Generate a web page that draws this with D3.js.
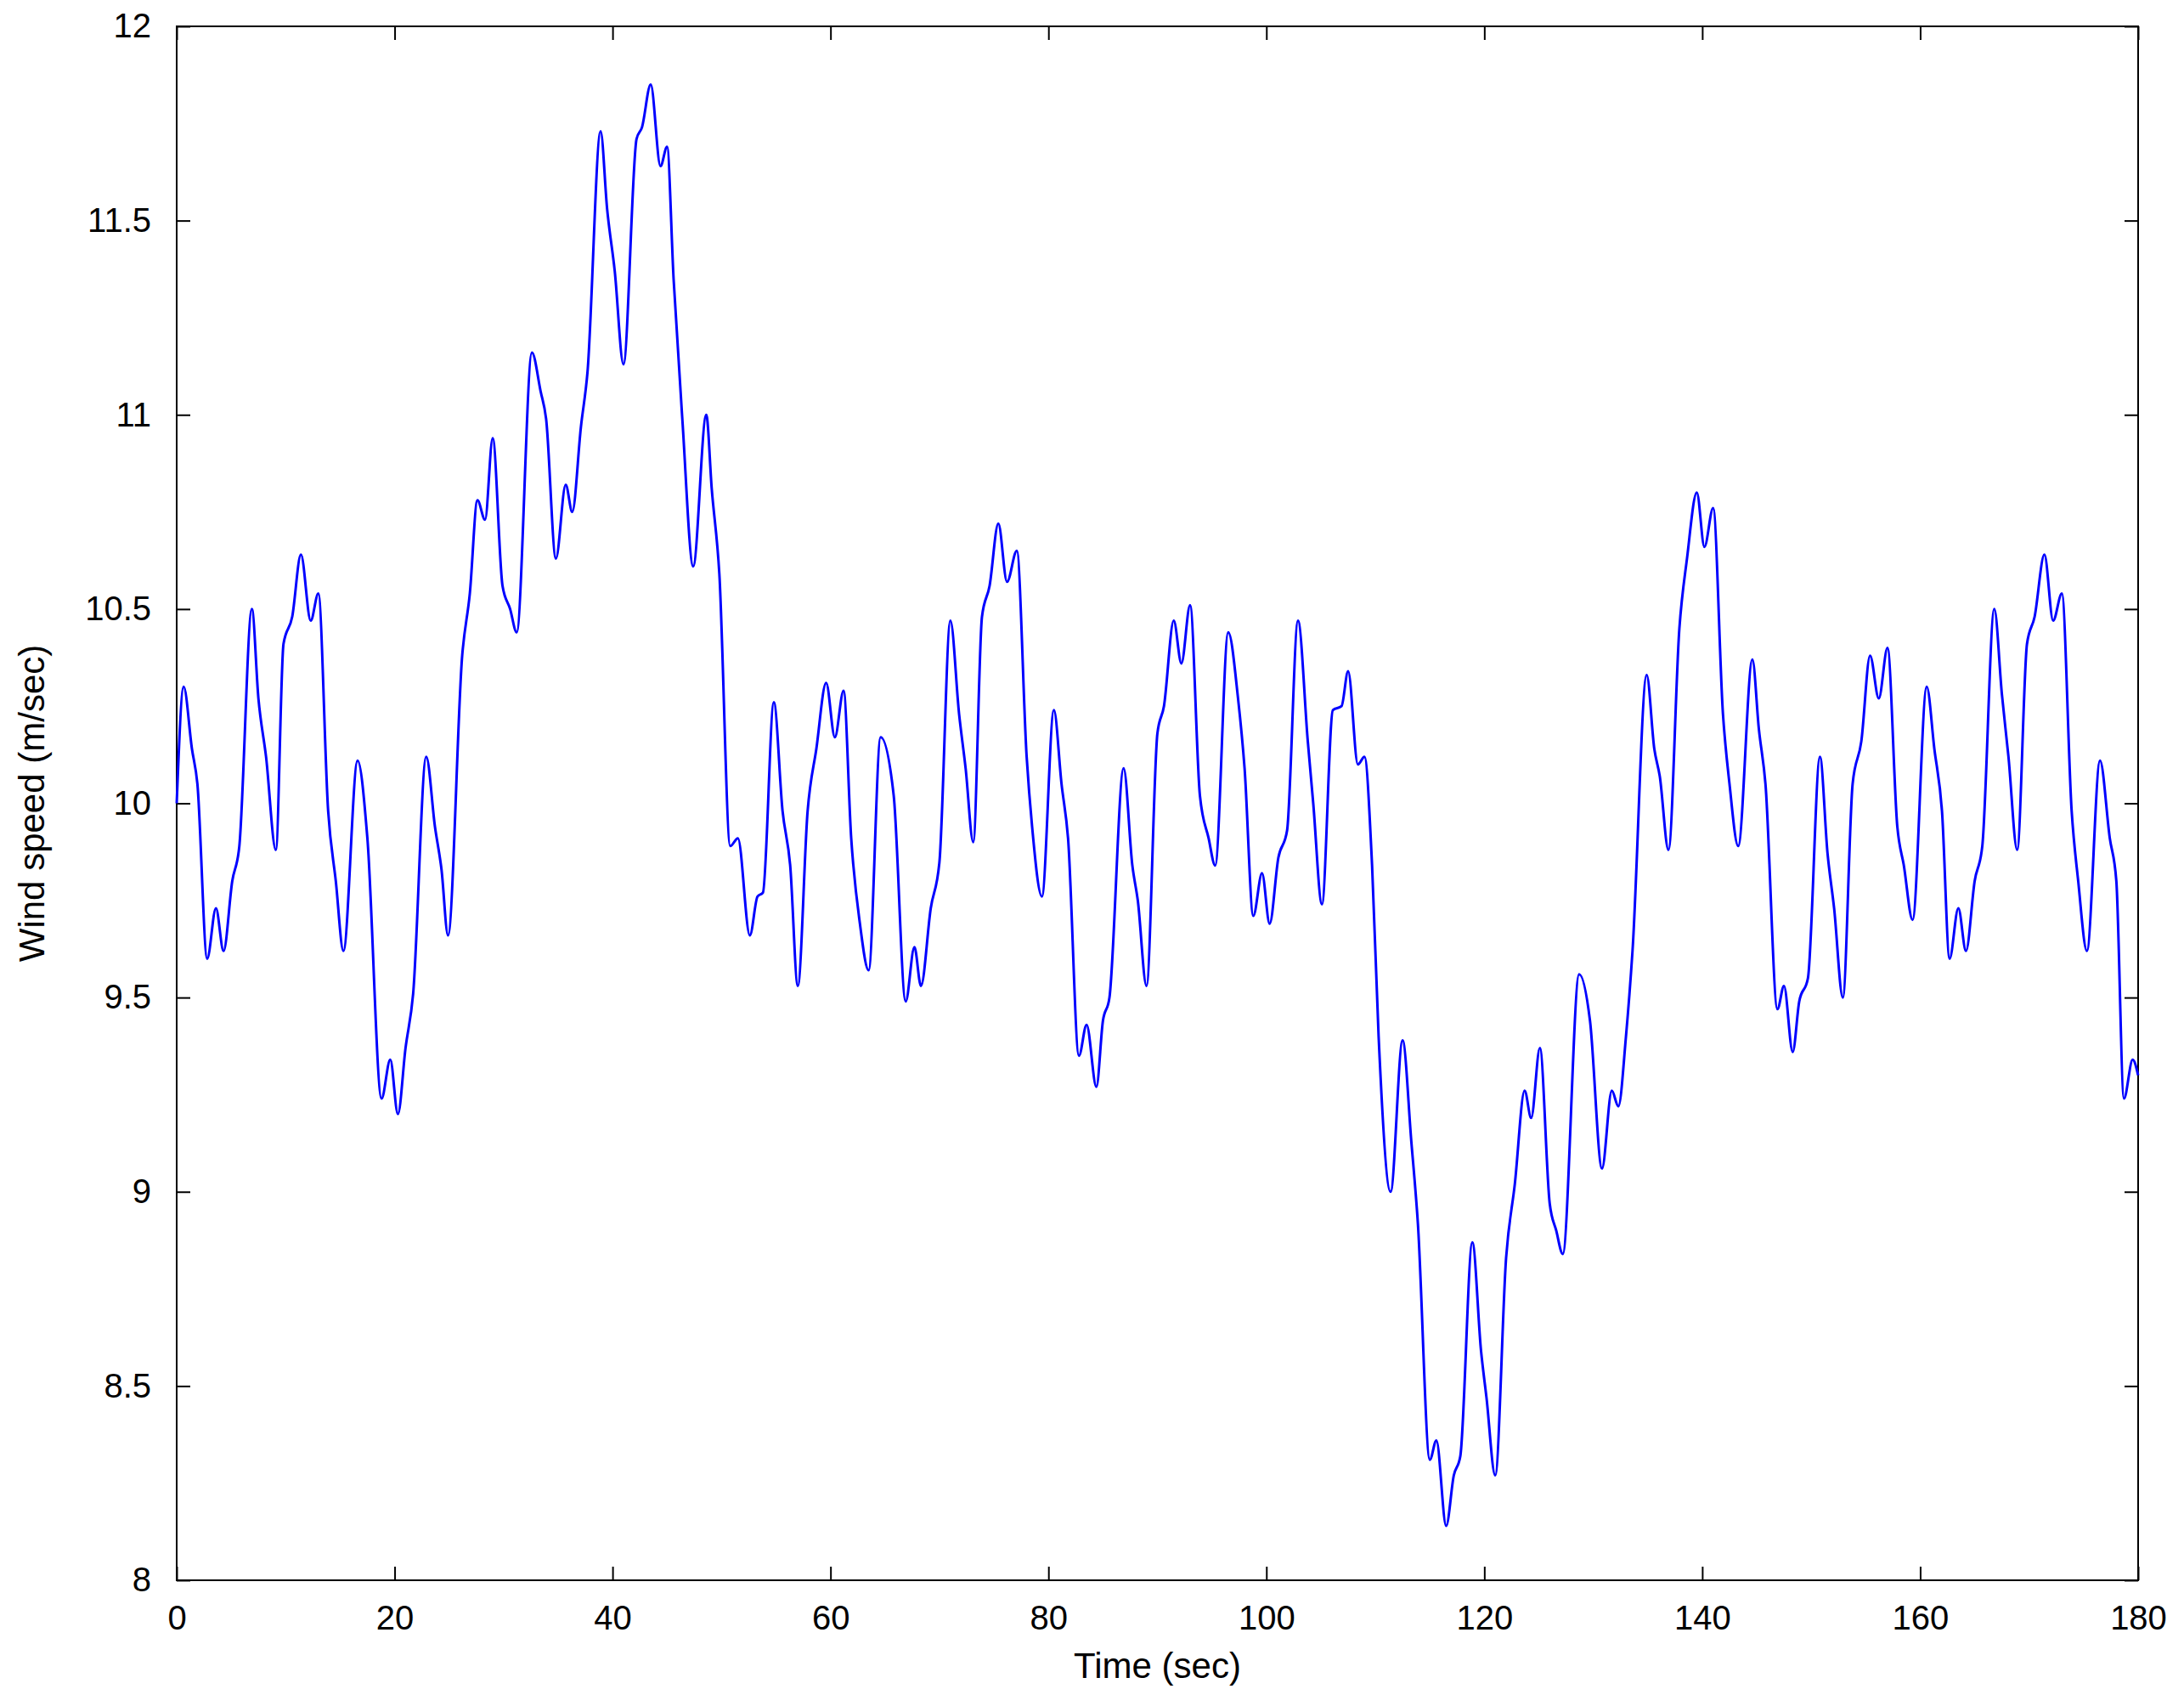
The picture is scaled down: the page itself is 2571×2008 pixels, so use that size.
<!DOCTYPE html>
<html><head><meta charset="utf-8">
<script src="https://cdn.jsdelivr.net/npm/d3@7"></script>
<style>body{margin:0;background:#fff}svg{display:block}</style>
</head><body>
<svg id="c" width="2571" height="2008"></svg>
<script>
const times=[0,0.64,1.4,1.9,2.8,3.6,4.3,5.1,5.75,6.9,7.5,8.2,9.1,9.8,10.6,11.4,12.3,13.0,13.9,14.6,15.3,16.6,17.5,18.8,19.6,20.3,21.0,21.7,22.9,23.7,24.3,24.9,26.2,26.9,27.6,28.3,29.0,29.9,30.6,31.2,32.6,33.4,33.9,34.8,35.7,36.3,37.1,37.7,38.9,39.5,40.2,41.0,42.2,42.7,43.5,44.4,45.0,45.6,46.4,47.4,48.6,49.1,49.8,50.8,51.5,52.6,53.3,53.8,54.8,55.6,56.3,57.0,57.9,58.7,59.6,60.4,61.2,61.9,62.7,63.5,64.6,65.8,66.9,67.7,68.3,69.2,70.0,71.0,71.8,72.4,73.1,73.9,74.6,75.4,76.2,77.1,78.0,78.5,79.4,80.5,81.2,81.8,82.8,83.5,84.4,85.0,85.6,86.9,87.7,88.2,89.0,90.0,90.6,91.5,92.2,93.0,93.9,94.7,95.3,96.5,97.4,98.0,98.8,99.6,100.3,101.1,101.9,102.9,103.8,104.3,105.1,106.1,106.9,107.5,108.4,109.0,109.7,110.3,111.4,112.5,113.3,113.9,115.0,115.6,116.5,117.2,117.8,118.9,119.7,120.2,121.0,122.0,122.8,123.7,124.3,125.1,126.0,126.6,127.2,128.7,129.7,130.8,131.7,132.3,133.0,133.6,134.9,135.6,136.1,136.9,137.9,138.6,139.5,140.2,141.0,141.9,142.5,143.3,144.6,145.2,145.8,146.9,147.5,148.3,148.9,149.7,150.8,151.5,152.1,152.9,153.8,154.6,155.4,156.2,157.0,157.9,158.5,159.3,160.6,161.3,162.0,162.7,163.5,164.2,165.0,165.7,166.8,167.5,168.1,168.9,169.8,170.5,171.4,172.2,173.0,173.9,174.5,175.3,176.5,177.4,178.0,178.7,179.5,180];
const speeds=[10.0,10.30,10.14,10.05,9.60,9.73,9.62,9.80,9.89,10.50,10.27,10.12,9.88,10.41,10.48,10.64,10.47,10.54,9.98,9.80,9.62,10.11,9.91,9.24,9.34,9.20,9.37,9.51,10.12,9.94,9.83,9.66,10.38,10.54,10.78,10.73,10.94,10.56,10.50,10.44,11.16,11.06,10.99,10.63,10.82,10.75,10.97,11.11,11.73,11.53,11.37,11.13,11.71,11.74,11.85,11.64,11.69,11.35,10.99,10.61,11.00,10.81,10.59,9.89,9.91,9.66,9.76,9.77,10.26,9.98,9.84,9.53,9.98,10.14,10.31,10.17,10.29,9.91,9.69,9.57,10.17,10.02,9.49,9.63,9.53,9.73,9.85,10.47,10.23,10.09,9.90,10.48,10.56,10.72,10.57,10.65,10.12,9.94,9.76,10.24,10.05,9.91,9.35,9.43,9.27,9.44,9.50,10.09,9.84,9.75,9.53,10.18,10.25,10.47,10.36,10.51,10.02,9.91,9.84,10.44,10.27,10.09,9.71,9.82,9.69,9.86,9.93,10.47,10.16,10.00,9.74,10.24,10.25,10.34,10.10,10.12,9.84,9.40,9.00,9.39,9.13,8.92,8.31,8.36,8.14,8.27,8.32,8.87,8.59,8.47,8.27,8.83,9.02,9.26,9.19,9.37,8.97,8.90,8.84,9.56,9.44,9.06,9.26,9.22,9.40,9.62,10.33,10.14,10.07,9.88,10.45,10.63,10.80,10.66,10.76,10.23,10.05,9.89,10.37,10.19,10.05,9.47,9.53,9.36,9.49,9.55,10.12,9.87,9.73,9.50,10.05,10.16,10.38,10.27,10.40,9.94,9.84,9.70,10.30,10.14,9.98,9.60,9.73,9.62,9.80,9.89,10.50,10.28,10.12,9.88,10.41,10.48,10.64,10.47,10.54,9.98,9.80,9.62,10.11,9.91,9.80,9.24,9.34,9.30];
const xTicks=[0,20,40,60,80,100,120,140,160,180];
const yTicks=[8,8.5,9,9.5,10,10.5,11,11.5,12];
const xLabel="Time (sec)", yLabel="Wind speed (m/sec)";

const L=208,R=2517,T=31,B=1860;
const svg=d3.select("#c");
const x=d3.scaleLinear().domain([0,180]).range([L,R]);
const y=d3.scaleLinear().domain([8,12]).range([B,T]);
const font="'Liberation Sans', Arial, sans-serif";
const tl=16;
function style(g){g.select(".domain").remove();g.selectAll("line").attr("stroke","#000").attr("stroke-width",2);
 g.selectAll("text").attr("font-family",font).attr("font-size",40).attr("fill","#000");}
const fmt=d=>String(d);
svg.append("g").attr("transform",`translate(0,${B})`).call(d3.axisBottom(x).tickValues(xTicks).tickFormat(fmt).tickSizeInner(-tl).tickPadding(tl+14)).call(style);
svg.append("g").attr("transform",`translate(0,${T})`).call(d3.axisTop(x).tickValues(xTicks).tickFormat("").tickSizeInner(-tl)).call(style);
svg.append("g").attr("transform",`translate(${L},0)`).call(d3.axisLeft(y).tickValues(yTicks).tickFormat(fmt).tickSizeInner(-tl).tickPadding(tl+14)).call(style);
svg.append("g").attr("transform",`translate(${R},0)`).call(d3.axisRight(y).tickValues(yTicks).tickFormat("").tickSizeInner(-tl)).call(style);
svg.append("rect").attr("x",L).attr("y",T).attr("width",R-L).attr("height",B-T).attr("fill","none").attr("stroke","#000").attr("stroke-width",2);
const data=times.map((t,i)=>[t,speeds[i]]);
svg.append("path").datum(data).attr("fill","none").attr("stroke","#0000ff").attr("stroke-width",3)
 .attr("d",d3.line().x(d=>x(d[0])).y(d=>y(d[1])).curve(d3.curveMonotoneX));
svg.append("text").attr("x",(L+R)/2).attr("y",1975).attr("text-anchor","middle").attr("font-family",font).attr("font-size",42).text(xLabel);
svg.append("text").attr("transform",`translate(52,${(T+B)/2}) rotate(-90)`).attr("text-anchor","middle").attr("font-family",font).attr("font-size",42).text(yLabel);
</script></body></html>
